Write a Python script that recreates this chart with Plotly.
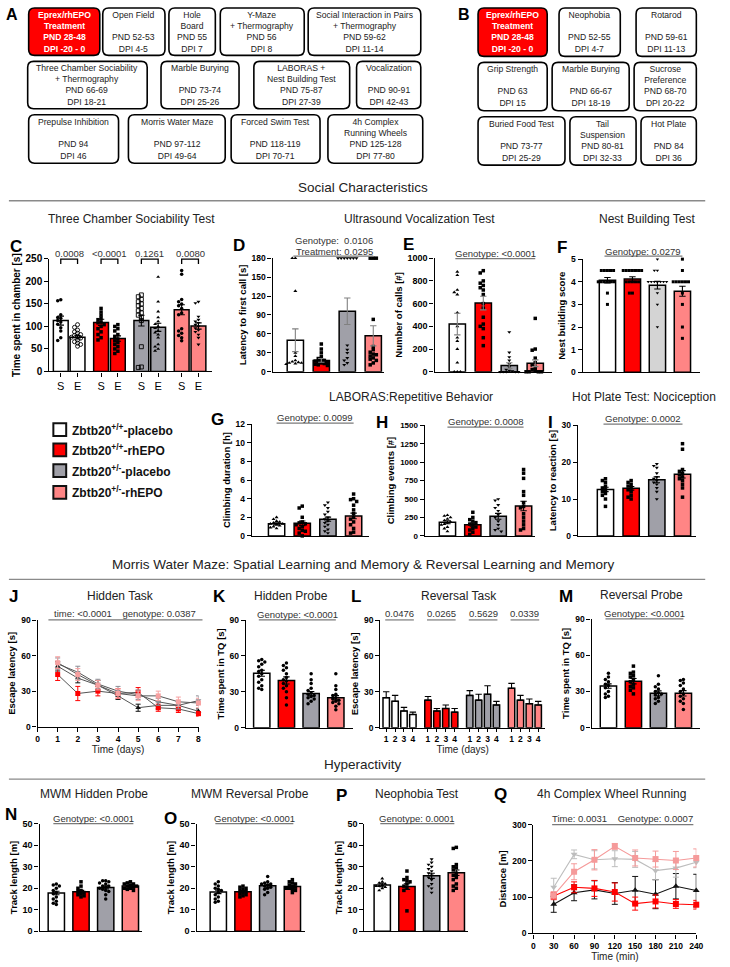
import plotly.graph_objects as go

W, H = 730, 967
FONT = "Liberation Sans, Arial, Helvetica, sans-serif"
WHITE, RED, GRAY, PINK = "#ffffff", "#ff0000", "#a0a0a8", "#ff8585"
LIGHTGRAY = "#d4d4d4"
COL4 = [WHITE, RED, GRAY, PINK]
NB = "\u00a0"

# ------------------------------------------------------------------ data
GROUPS = ["Zbtb20<sup>+/+</sup>-placebo", "Zbtb20<sup>+/+</sup>-rhEPO",
          "Zbtb20<sup>+/-</sup>-placebo", "Zbtb20<sup>+/-</sup>-rhEPO"]

A_TEXT = [
    "Eprex/rhEPO<br>Treatment<br>PND 28-48<br>DPI -20 - 0",
    "Open Field<br>" + NB + "<br>PND 52-53<br>DPI 4-5",
    "Hole<br>Board<br>PND 55<br>DPI 7",
    "Y-Maze<br>+ Thermography<br>PND 56<br>DPI 8",
    "Social Interaction in Pairs<br>+ Thermography<br>PND 59-62<br>DPI 11-14",
    "Three Chamber Sociability<br>+ Thermography<br>PND 66-69<br>DPI 18-21",
    "Marble Burying<br>" + NB + "<br>PND 73-74<br>DPI 25-26",
    "LABORAS +<br>Nest Building Test<br>PND 75-87<br>DPI 27-39",
    "Vocalization<br>" + NB + "<br>PND 90-91<br>DPI 42-43",
    "Prepulse Inhibition<br>" + NB + "<br>PND 94<br>DPI 46",
    "Morris Water Maze<br>" + NB + "<br>PND 97-112<br>DPI 49-64",
    "Forced Swim Test<br>" + NB + "<br>PND 118-119<br>DPI 70-71",
    "4h Complex<br>Running Wheels<br>PND 125-128<br>DPI 77-80",
]
B_TEXT = [
    "Eprex/rhEPO<br>Treatment<br>PND 28-48<br>DPI -20 - 0",
    "Neophobia<br>" + NB + "<br>PND 52-55<br>DPI 4-7",
    "Rotarod<br>" + NB + "<br>PND 59-61<br>DPI 11-13",
    "Grip Strength<br>" + NB + "<br>PND 63<br>DPI 15",
    "Marble Burying<br>" + NB + "<br>PND 66-67<br>DPI 18-19",
    "Sucrose<br>Preference<br>PND 68-70<br>DPI 20-22",
    "Buried Food Test<br>" + NB + "<br>PND 73-77<br>DPI 25-29",
    "Tail<br>Suspension<br>PND 80-81<br>DPI 32-33",
    "Hot Plate<br>" + NB + "<br>PND 84<br>DPI 36",
]

# C: three chamber (S = stranger, E = empty) for 4 groups
C_LABELS = ["S", "E"] * 4
C_MEAN = [113, 76, 109, 73, 113, 98, 137, 101]
C_SEM = [10, 4, 7, 6, 12, 9, 11, 7]
C_PTS = [
    [159, 157, 126, 120, 118, 113, 110, 105, 97, 90, 75, 69],
    [104, 98, 92, 88, 85, 82, 80, 78, 76, 74, 70, 66, 63, 60, 56],
    [140, 132, 125, 118, 115, 110, 108, 104, 100, 95, 88, 82, 75, 70],
    [104, 100, 95, 90, 82, 78, 72, 68, 64, 60, 55, 50, 45, 40],
    [170, 166, 160, 155, 150, 146, 140, 135, 130, 125, 120, 113, 55, 10, 9],
    [210, 155, 133, 120, 111, 105, 100, 96, 90, 86, 82, 75, 60, 55, 50, 46],
    [224, 216, 160, 155, 150, 146, 140, 130, 126, 95, 90, 85, 80, 75, 68],
    [155, 152, 122, 115, 111, 108, 104, 100, 96, 92, 88, 82, 75, 60],
]
C_P = ["0.0008", "<0.0001", "0.1261", "0.0080"]

D_MEAN = [50, 18, 96, 57]
D_SEM = [18, 3, 21, 16]
D_PTS = [
    [180, 180, 128, 30, 25, 18, 16, 15, 14, 14, 13, 12],
    [44, 36, 30, 24, 21, 19, 18, 17, 16, 15, 14, 13, 12, 11, 10],
    [180, 180, 180, 180, 180, 180, 180, 42, 35, 30, 22, 18, 14, 11],
    [180, 180, 180, 83, 40, 35, 31, 28, 27, 25, 22, 20, 18, 14, 11],
]
D_STATS = ["Genotype:  0.0106", "Treatment: 0.0295"]

E_MEAN = [420, 605, 55, 75]
E_SEM = [95, 60, 25, 30]
E_PTS = [
    [880, 850, 720, 700, 680, 520, 400, 300, 270, 200, 80, 0, 0, 0],
    [890, 870, 800, 780, 760, 740, 720, 680, 600, 560, 480, 420, 400, 380, 300, 230],
    [350, 170, 130, 100, 70, 40, 20, 10, 5, 0, 0, 0, 0, 0],
    [470, 200, 190, 120, 80, 60, 40, 20, 10, 0, 0, 0, 0],
]
E_STATS = "Genotype: <0.0001"

F_MEAN = [4.07, 4.12, 3.85, 3.58]
F_SEM = [0.12, 0.10, 0.17, 0.22]
F_PTS = [
    [4.5, 4.5, 4.5, 4.5, 4.5, 4, 4, 4, 4, 4, 4, 3.5, 3],
    [4.5, 4.5, 4.5, 4.5, 4.5, 4.5, 4.5, 4, 4, 4, 4, 4, 3.5, 3.5],
    [5, 4.5, 4.5, 4, 4, 4, 4, 4, 4, 4, 4, 4, 3.5, 3, 2],
    [5, 4.5, 4, 4, 4, 4, 4, 4, 3.5, 3, 2, 1.5],
]
F_STATS = "Genotype: 0.0279"

G_MEAN = [1.3, 1.35, 1.8, 2.15]
G_SEM = [0.12, 0.25, 0.22, 0.3]
G_PTS = [
    [2.0, 1.8, 1.6, 1.5, 1.4, 1.3, 1.3, 1.2, 1.1, 1.0, 0.9, 0.8],
    [3.2, 3.0, 2.0, 1.5, 1.4, 1.3, 1.2, 1.0, 0.8, 0.6, 0.5, 0.3, 0.0],
    [3.6, 3.3, 3.0, 2.6, 2.3, 2.0, 1.8, 1.6, 1.4, 1.2, 1.0, 0.7, 0.5, 0.3],
    [4.5, 4.0, 3.9, 3.7, 3.3, 2.8, 2.4, 2.0, 1.8, 1.5, 1.2, 0.8, 0.4, 0.3],
]
G_STATS = "Genotype: 0.0099"

H_MEAN = [185, 150, 265, 405]
H_SEM = [20, 25, 40, 65]
H_PTS = [
    [280, 270, 250, 230, 210, 190, 180, 160, 150, 120, 100, 60],
    [320, 250, 220, 200, 180, 160, 150, 120, 100, 80, 50, 20],
    [500, 480, 420, 380, 340, 290, 250, 200, 150, 100, 80, 60],
    [900, 850, 780, 600, 550, 450, 400, 380, 300, 250, 200, 150, 100, 80],
]
H_STATS = "Genotype: 0.0008"

I_MEAN = [12.6, 12.9, 15.2, 16.7]
I_SEM = [0.6, 0.5, 0.8, 1.0]
I_PTS = [
    [15.5, 15, 14.5, 13.5, 13, 12.5, 12, 11.5, 11, 10, 8],
    [15, 14.5, 14, 13.5, 13, 12.5, 12, 11, 10.5, 10],
    [19.5, 19, 18.5, 17, 16, 15.5, 15, 14.5, 14, 13, 12, 10],
    [25, 23.5, 18, 17.5, 17, 16.5, 16, 15.5, 15, 14, 13, 10.5],
]
I_STATS = "Genotype: 0.0002"

J_DAYS = [1, 2, 3, 4, 5, 6, 7, 8]
J_MEAN = [
    [51, 41, 35, 26, 16, 18, 18, 13],
    [44, 28, 30, 28, 29, 16, 15, 11],
    [53, 46, 36, 30, 27, 21, 18, 22],
    [54, 44, 35, 28, 26, 26, 21, 20],
]
J_SEM = [
    [4, 4, 4, 3, 3, 3, 3, 2],
    [5, 6, 4, 4, 4, 3, 3, 2],
    [5, 5, 4, 4, 4, 3, 3, 4],
    [5, 5, 4, 4, 4, 4, 4, 4],
]
J_STATS = "time: <0.0001    genotype: 0.0387"

K_MEAN = [45.5, 39.5, 28.5, 25]
K_SEM = [2.5, 3, 1.8, 1.8]
K_PTS = [
    [57, 56, 55, 53, 51, 48, 47, 45, 43, 40, 38, 35, 33, 32],
    [54, 52, 50, 48, 45, 42, 40, 39, 37, 35, 33, 30, 25, 19],
    [45, 40, 37, 33, 31, 29, 28, 27, 26, 25, 24, 22, 20],
    [45, 35, 32, 28, 27, 25, 24, 23, 22, 21, 20, 18, 15],
]
K_STATS = "Genotype: <0.0001"

L_DAYLABELS = ["1", "2", "3", "4"]
L_MEAN = [[25, 22, 14, 11], [23, 14, 16, 13], [27, 23, 28, 19], [33, 23, 20, 19]]
L_SEM = [[5, 5, 3, 2], [3, 2, 3, 3], [4, 5, 7, 3], [4, 4, 4, 3]]
L_P = ["0.0476", "0.0265", "0.5629", "0.0339"]

M_MEAN = [34.5, 38.5, 28.5, 28.5]
M_SEM = [1.8, 2.2, 2.0, 2.2]
M_PTS = [
    [45, 42, 40, 38, 36, 35, 33, 30, 28, 26, 25],
    [51, 46, 45, 43, 42, 40, 38, 36, 34, 33, 31, 28],
    [43, 36, 34, 32, 30, 29, 28, 27, 25, 24, 22, 20],
    [40, 39, 37, 35, 32, 30, 28, 26, 24, 22, 20, 15],
]
M_STATS = "Genotype: <0.0001"

N_MEAN = [17.8, 18.4, 20.4, 21.0]
N_SEM = [0.8, 0.6, 0.7, 0.4]
N_PTS = [
    [22, 21.5, 21, 20, 19, 18, 17.5, 16, 15, 14, 13, 12.5],
    [23, 21, 20, 19, 18.5, 18, 17.5, 17, 16.5, 16],
    [23.5, 23.5, 23, 22.5, 22, 21, 21, 20.5, 20, 19.5, 19, 18.5, 17, 15],
    [23, 22.5, 22, 22, 21.5, 21, 21, 20.5, 20, 20, 19.5, 19],
]
N_STATS = "Genotype: <0.0001"

O_MEAN = [18.3, 18.4, 21.2, 20.8]
O_SEM = [0.8, 0.5, 0.7, 0.5]
O_PTS = [
    [23, 22, 21, 20, 19.5, 19, 18, 17, 16, 15, 14, 13.5],
    [21, 20.5, 20, 19.5, 19, 18.5, 18, 17.5, 17, 16.5, 16],
    [25.5, 23, 22.5, 22, 22, 21.5, 21, 20.5, 20, 19.5, 18, 17],
    [24, 23, 22.5, 22, 21.5, 21, 20.5, 20, 20, 19.5, 19, 18],
]
O_STATS = "Genotype: <0.0001"

P_MEAN = [21.5, 20.8, 25.8, 27.2]
P_SEM = [0.8, 1.3, 1.2, 1.3]
P_PTS = [
    [24.5, 23, 22.5, 22, 21.5, 21, 21, 20.5, 20, 19],
    [28, 25, 24, 23.5, 23, 22, 21, 20, 19, 9.5],
    [33.5, 32, 31, 30, 29, 28, 27, 26, 25, 24, 22, 21, 20, 18],
    [39, 38.5, 31, 30, 29.5, 28.5, 27, 26, 25, 24, 22, 21, 20, 19],
]
P_STATS = "Genotype: 0.0001"

Q_MIN = [30, 60, 90, 120, 150, 180, 210, 240]
Q_MEAN = [
    [80, 112, 120, 110, 119, 108, 130, 118],
    [103, 127, 124, 114, 82, 88, 81, 79],
    [127, 218, 203, 206, 204, 173, 180, 196],
    [105, 170, 203, 240, 208, 205, 201, 208],
]
Q_SEM = [
    [22, 22, 25, 30, 38, 40, 35, 45],
    [10, 15, 22, 25, 18, 18, 12, 12],
    [25, 12, 25, 22, 22, 25, 25, 15],
    [10, 22, 28, 8, 22, 22, 25, 25],
]
Q_STATS = "Time: 0.0031    Genotype: 0.0007"

# ------------------------------------------------------------------ helpers
fig = go.Figure()
shapes, annos, AX = [], [], {}
count = [0]


def X(p):
    return p / W


def Y(p):
    return 1 - p / H


def text(x, y, s, size=9.5, bold=False, color="#222", xanchor="center", yanchor="middle", align="center"):
    annos.append(dict(x=X(x), y=Y(y), xref="paper", yref="paper", text=s, showarrow=False,
                      font=dict(family=FONT, size=size, color=color, weight="bold" if bold else "normal"),
                      xanchor=xanchor, yanchor=yanchor, align=align, borderpad=0))


def hline(x0, x1, y, color="#808080", width=1.2):
    shapes.append(dict(type="line", xref="paper", yref="paper", x0=X(x0), x1=X(x1), y0=Y(y), y1=Y(y),
                       line=dict(color=color, width=width)))


def rbox(x0, y0, x1, y1, fill="white", r=6):
    ax, ay = r / W, r / H
    L, R, T, B = X(x0), X(x1), Y(y0), Y(y1)
    path = (f"M {L+ax},{T} L {R-ax},{T} Q {R},{T} {R},{T-ay} L {R},{B+ay} Q {R},{B} {R-ax},{B} "
            f"L {L+ax},{B} Q {L},{B} {L},{B+ay} L {L},{T-ay} Q {L},{T} {L+ax},{T} Z")
    shapes.append(dict(type="path", xref="paper", yref="paper", path=path, fillcolor=fill,
                       line=dict(color="black", width=1.6), layer="below"))


def swarm(vals, ppu, step=3.1, nmax=3):
    cands = [0.0]
    for k in range(1, nmax + 1):
        cands += [-k * step, k * step]
    placed, res = [], [0.0] * len(vals)
    for i in sorted(range(len(vals)), key=lambda j: -vals[j]):
        yv = vals[i] * ppu
        chosen = None
        for c in cands:
            if all((c - a) ** 2 + (yv - b) ** 2 >= step ** 2 * 0.98 for a, b in placed):
                chosen = c
                break
        if chosen is None:
            chosen = max(cands, key=lambda c: min((c - a) ** 2 + (yv - b) ** 2 for a, b in placed))
        placed.append((chosen, yv))
        res[i] = chosen
    return res


TICKFONT = dict(family=FONT, size=8.5, color="black", weight="bold")


def ytitle(s, size=9.5):
    return dict(text=s, font=dict(family=FONT, size=size, color="black", weight="bold"), standoff=3)


def xtitle(s):
    return dict(text=s, font=dict(family=FONT, size=10, color="#222"), standoff=2)


def make_axes(left, right, top, bottom, xr, yr, xkw=None, ykw=None):
    count[0] += 1
    n = count[0]
    xid = "x" if n == 1 else f"x{n}"
    yid = "y" if n == 1 else f"y{n}"
    base = dict(showgrid=False, zeroline=False, showline=True, linecolor="black", linewidth=1.4,
                ticks="outside", ticklen=4, tickwidth=1.3, tickcolor="black", fixedrange=True,
                tickfont=TICKFONT)
    xa = dict(base, domain=[X(left), X(right)], range=xr, anchor=yid, ticks="", showticklabels=False)
    ya = dict(base, domain=[Y(bottom), Y(top)], range=yr, anchor=xid)
    if xkw:
        xa.update(xkw)
    if ykw:
        ya.update(ykw)
    AX["xaxis" if n == 1 else f"xaxis{n}"] = xa
    AX["yaxis" if n == 1 else f"yaxis{n}"] = ya

    def fx(v):
        return left + (v - xr[0]) / (xr[1] - xr[0]) * (right - left)

    def fy(v):
        return bottom - (v - yr[0]) / (yr[1] - yr[0]) * (bottom - top)

    return xid, yid, fx, fy


def bar_panel(left, c0, sp, right, top, bottom, ymax, dtick, pts, means, sems, ylab,
              xpos=(0, 1, 2, 3), colors=None, barpx=16.5, symbols=None, errcolor="black",
              xkw=None, tickfs=8.5, nmax=3, msize=3.5, uponly=False, tsize=9.5):
    colors = colors or COL4
    symbols = symbols or ["circle", "square", "circle", "square"]
    xr = [(left - c0) / sp, (right - c0) / sp]
    yr = [0, ymax * 1.0008]
    ykw = dict(tick0=0, dtick=dtick, title=ytitle(ylab, tsize),
               tickfont=dict(family=FONT, size=tickfs, color="black", weight="bold"))
    xid, yid, fx, fy = make_axes(left, right, top, bottom, xr, yr, xkw, ykw)
    fig.add_trace(go.Bar(x=list(xpos), y=means, width=barpx / sp,
                         marker=dict(color=colors, line=dict(color="black", width=1.5)),
                         xaxis=xid, yaxis=yid, hoverinfo="skip", showlegend=False))
    ppu = (bottom - top) / ymax
    for i, vals in enumerate(pts):
        offs = swarm(vals, ppu, nmax=nmax)
        sym = symbols[i]
        fig.add_trace(go.Scatter(
            x=[xpos[i] + o / sp for o in offs], y=vals, mode="markers",
            marker=dict(symbol=sym, size=msize + (0.5 if "open" in sym else 0), color="black",
                        line=dict(color="black", width=0.9 if "open" in sym else 0)),
            cliponaxis=False, xaxis=xid, yaxis=yid, hoverinfo="skip", showlegend=False))
    err = dict(type="data", array=sems, color=errcolor, thickness=1.1, width=3.2, visible=True)
    if uponly:
        err.update(symmetric=False, arrayminus=[0] * len(sems))
    fig.add_trace(go.Scatter(x=list(xpos), y=means, mode="markers",
                             marker=dict(size=1, color="rgba(0,0,0,0)"), error_y=err,
                             xaxis=xid, yaxis=yid, hoverinfo="skip", showlegend=False, cliponaxis=False))
    return fx, fy


def stat(x0, x1, yline, ytext, s, size=9.5):
    hline(x0, x1, yline, color="#7a7a7a", width=1.2)
    text((x0 + x1) / 2, ytext, s, size=size, color="#333")


# ------------------------------------------------------------------ A / B schedule boxes
A_GEOM = [(27, 3, 99, 51), (102, 3, 165, 51), (169, 3, 216, 51), (221, 3, 306, 51), (310, 3, 424, 51),
          (26, 57, 147, 105), (161, 57, 240, 105), (255, 57, 352, 105), (359, 57, 424, 105),
          (27, 111, 118, 160), (128, 111, 226, 160), (232, 111, 322, 160), (330, 111, 426, 160)]
B_GEOM = [(482, 3, 552, 52), (564, 3, 626, 52), (642, 3, 703, 52),
          (482, 58, 552, 107), (557, 58, 635, 107), (640, 58, 703, 107),
          (482, 113, 570, 162), (575, 113, 642, 162), (647, 113, 703, 162)]
for geoms, texts in ((A_GEOM, A_TEXT), (B_GEOM, B_TEXT)):
    for k, (g, s) in enumerate(zip(geoms, texts)):
        red = k == 0
        rbox(*g, fill=RED if red else "white")
        text((g[0] + g[2]) / 2, g[1] + 0.8, s, size=8.6, bold=red, color="white" if red else "#222",
             yanchor="top")
text(10, 10, "A", size=16, bold=True, color="black")
text(468, 10, "B", size=16, bold=True, color="black")

# ------------------------------------------------------------------ section headers
for ytxt, yl, s in ((185, 198, "Social Characteristics"),
                    (566, 581, "Morris Water Maze: Spatial Learning and Memory & Reversal Learning and Memory"),
                    (768, 783, "Hyperactivity")):
    text(365, ytxt, s, size=13.5, color="#222")
    hline(7, 712, yl, color="#8a8a8a", width=1.3)

# panel titles
for x, y, s in ((131, 216, "Three Chamber Sociability Test"), (423, 216, "Ultrasound Vocalization Test"),
                (653, 216, "Nest Building Test"), (414, 397, "LABORAS:Repetitive Behavior"),
                (650, 397, "Hot Plate Test: Nociception"), (120, 598, "Hidden Task"),
                (293, 598, "Hidden Probe"), (463, 598, "Reversal Task"), (647, 597, "Reversal Probe"),
                (93, 798, "MWM Hidden Probe"), (251, 798, "MWM Reversal Probe"),
                (420, 798, "Neophobia Test"), (617, 798, "4h Complex Wheel Running")):
    text(x, y, s, size=12, color="#222")

for lx, ly, s in ((14, 244, "C"), (240, 243, "D"), (412, 242, "E"), (567, 245, "F"),
                  (218, 419, "G"), (385, 422, "H"), (555, 422, "I"),
                  (12, 598, "J"), (220, 598, "K"), (358, 598, "L"), (571, 598, "M"),
                  (9, 819, "N"), (171, 823, "O"), (344, 800, "P"), (505, 799, "Q")):
    text(lx, ly, s, size=17, bold=True, color="black")

# ------------------------------------------------------------------ C
C_X = [g * 2.4 + k for g in range(4) for k in range(2)]
C_COL = [c for c in COL4 for _ in range(2)]
cx_kw = dict(ticks="outside", ticklen=4, showticklabels=True, tickvals=C_X, ticktext=C_LABELS,
             tickfont=dict(family=FONT, size=11, color="black", weight="normal"))
fx, fy = bar_panel(48, 59.5, 17, 213, 256.7, 370.7, 250, 50, C_PTS, C_MEAN, C_SEM,
                   "Time spent in chamber [s]", xpos=C_X, colors=C_COL, barpx=15,
                   symbols=["circle", "circle-open", "square", "square", "square-open", "triangle-up",
                            "circle", "triangle-down"], xkw=cx_kw, tickfs=10, nmax=2, tsize=10)
for g in range(4):
    xa, xb = fx(C_X[2 * g]), fx(C_X[2 * g + 1])
    shapes.append(dict(type="path", xref="paper", yref="paper",
                       path=f"M {X(xa)},{Y(262)} L {X(xa)},{Y(257)} L {X(xb)},{Y(257)} L {X(xb)},{Y(262)}",
                       line=dict(color="black", width=1.3)))
    text((xa + xb) / 2, 251.5, C_P[g], size=9.5, color="#333")

# ------------------------------------------------------------------ D E F
fx, fy = bar_panel(274, 297, 26.3, 387, 256, 371, 180, 30, D_PTS, D_MEAN, D_SEM,
                   "Latency to first call [s]", errcolor="#808080",
                   symbols=["triangle-up", "square", "triangle-down", "square"])
hline(fx(0) - 2, fx(3), 254, color="#7a7a7a")
text((fx(0) + fx(3)) / 2, 238, D_STATS[0], size=9.5, color="#333")
text((fx(0) + fx(3)) / 2, 249, D_STATS[1], size=9.5, color="#333")

fx, fy = bar_panel(438, 461, 26.3, 557, 256, 371, 1000, 200, E_PTS, E_MEAN, E_SEM,
                   "Number of calls [#]", errcolor="#808080",
                   symbols=["triangle-up", "square", "triangle-down", "square"], tickfs=9)
stat(fx(0) - 2, fx(3), 256.5, 251, E_STATS)

fx, fy = bar_panel(588, 613, 25.3, 707, 257, 371.5, 5, 1, F_PTS, F_MEAN, F_SEM,
                   "Nest building score", colors=[WHITE, RED, LIGHTGRAY, PINK],
                   symbols=["square", "square", "triangle-down", "square"], msize=3)
stat(fx(0) - 3, fx(3), 254, 249, F_STATS)

# ------------------------------------------------------------------ G H I
fx, fy = bar_panel(253, 278, 26, 372, 424, 537, 12, 2, G_PTS, G_MEAN, G_SEM,
                   "Climbing duration [h]", symbols=["triangle-up", "square", "triangle-down", "square"])
stat(fx(0), fx(3), 423, 417, G_STATS)

fx, fy = bar_panel(428, 451, 25.7, 540, 425, 537, 1500, 250, H_PTS, H_MEAN, H_SEM,
                   "Climbing events [#]", symbols=["triangle-up", "square", "triangle-down", "square"],
                   tickfs=8)
stat(fx(0), fx(3), 427, 421.5, H_STATS)

fx, fy = bar_panel(583, 611, 26, 703, 425, 537, 30, 10, I_PTS, I_MEAN, I_SEM,
                   "Latency to reaction [s]", symbols=["square", "square", "triangle-down", "square"])
stat(fx(0) - 2, fx(3), 424, 418.5, I_STATS)

# ------------------------------------------------------------------ legend
for i, (g, c) in enumerate(zip(GROUPS, COL4)):
    yc = [429.5, 450, 471, 493][i]
    shapes.append(dict(type="rect", xref="paper", yref="paper", x0=X(52), x1=X(65), y0=Y(yc + 6.5),
                       y1=Y(yc - 6.5), fillcolor=c, line=dict(color="#111", width=2)))
    text(70, yc, g, size=12, bold=True, color="#111", xanchor="left")

# ------------------------------------------------------------------ J (line)
xid, yid, fx, fy = make_axes(36, 199, 622, 730, [0, 8.004], [0, 90.07],
                             xkw=dict(ticks="outside", ticklen=4, showticklabels=True, tick0=0, dtick=1,
                                      title=xtitle("Time (days)")),
                             ykw=dict(tick0=0, dtick=30, title=ytitle("Escape latency [s]")))
J_STYLE = [("#111111", "triangle-up"), (RED, "square"), ("#8c8c94", "triangle-down"), ("#f7a0a0", "square")]
for (col, sym), m, e in zip(J_STYLE, J_MEAN, J_SEM):
    fig.add_trace(go.Scatter(x=J_DAYS, y=m, mode="lines+markers", line=dict(color="#555", width=1),
                             marker=dict(symbol=sym, size=5, color=col),
                             error_y=dict(type="data", array=e, color=col, thickness=1, width=2.5),
                             xaxis=xid, yaxis=yid, hoverinfo="skip", showlegend=False, cliponaxis=False))
stat(47, 203, 622, 615, J_STATS)

# ------------------------------------------------------------------ K
fx, fy = bar_panel(247, 263, 25, 355, 622, 731, 90, 30, K_PTS, K_MEAN, K_SEM,
                   "Time spent in TQ [s]", symbols=["circle", "circle", "circle", "circle"])
stat(fx(0) - 3, fx(3), 622, 617, K_STATS)

# ------------------------------------------------------------------ L
L_X = [g * 4.7 + d for g in range(4) for d in range(4)]
L_COL = [c for c in COL4 for _ in range(4)]
l_kw = dict(ticks="outside", ticklen=3, showticklabels=True, tickvals=L_X, ticktext=L_DAYLABELS * 4,
            title=xtitle("Time (days)"))
fx, fy = bar_panel(383, 389, 9, 550, 622, 731, 90, 30, [], [v for r in L_MEAN for v in r],
                   [v for r in L_SEM for v in r], "Escape latency [s]", xpos=L_X, colors=L_COL,
                   barpx=6.5, xkw=l_kw, uponly=True)
for g in range(4):
    stat(fx(L_X[4 * g]) - 1, fx(L_X[4 * g + 3]) + 1, 622, 616, L_P[g])

# ------------------------------------------------------------------ M
fx, fy = bar_panel(597, 614, 25.3, 707, 621, 731, 90, 30, M_PTS, M_MEAN, M_SEM,
                   "Time spent in TQ [s]", symbols=["circle", "square", "circle", "circle"])
stat(fx(0) - 3, fx(3), 621, 616, M_STATS)

# ------------------------------------------------------------------ N O P
fx, fy = bar_panel(38, 55, 25, 142, 828, 937, 50, 10, N_PTS, N_MEAN, N_SEM, "Track length [m]",
                   symbols=["circle", "square", "circle", "square"], tickfs=9)
stat(fx(0) - 3, fx(3) + 3, 828, 823, N_STATS)
fx, fy = bar_panel(197, 219, 25, 307, 828, 937, 50, 10, O_PTS, O_MEAN, O_SEM, "Track length [m]",
                   symbols=["circle", "square", "circle", "square"], tickfs=9)
stat(fx(0) - 3, fx(3) + 1, 828, 823, O_STATS)
fx, fy = bar_panel(367, 385, 25, 472, 828, 937, 50, 10, P_PTS, P_MEAN, P_SEM, "Track length [m]",
                   symbols=["triangle-up", "square", "triangle-down", "square"], tickfs=9)
stat(fx(0) - 2, fx(3) - 2, 828, 823, P_STATS)

# ------------------------------------------------------------------ Q (line)
xid, yid, fx, fy = make_axes(538, 703, 829, 939, [0, 240.12], [0, 300.2],
                             xkw=dict(ticks="outside", ticklen=4, showticklabels=True, tick0=0, dtick=30,
                                      title=xtitle("Time (min)")),
                             ykw=dict(tick0=0, dtick=100, title=ytitle("Distance [m]")))
Q_STYLE = [("#111111", "triangle-up"), (RED, "square"), ("#bdbdbd", "triangle-down"), ("#f59a9a", "square")]
for (col, sym), m, e in zip(Q_STYLE, Q_MEAN, Q_SEM):
    fig.add_trace(go.Scatter(x=Q_MIN, y=m, mode="lines+markers", line=dict(color=col, width=1.1),
                             marker=dict(symbol=sym, size=6, color=col),
                             error_y=dict(type="data", array=e, color=col, thickness=1, width=3),
                             xaxis=xid, yaxis=yid, hoverinfo="skip", showlegend=False, cliponaxis=False))
stat(557, 700, 829, 823, Q_STATS)

# ------------------------------------------------------------------ layout
fig.update_layout(width=W, height=H, margin=dict(l=0, r=0, t=0, b=0), autosize=False,
                  paper_bgcolor="white", plot_bgcolor="rgba(0,0,0,0)", showlegend=False,
                  font=dict(family=FONT, color="black"), shapes=shapes, annotations=annos, **AX)
fig.write_html("out.html", include_plotlyjs=True, config={"displayModeBar": False})
